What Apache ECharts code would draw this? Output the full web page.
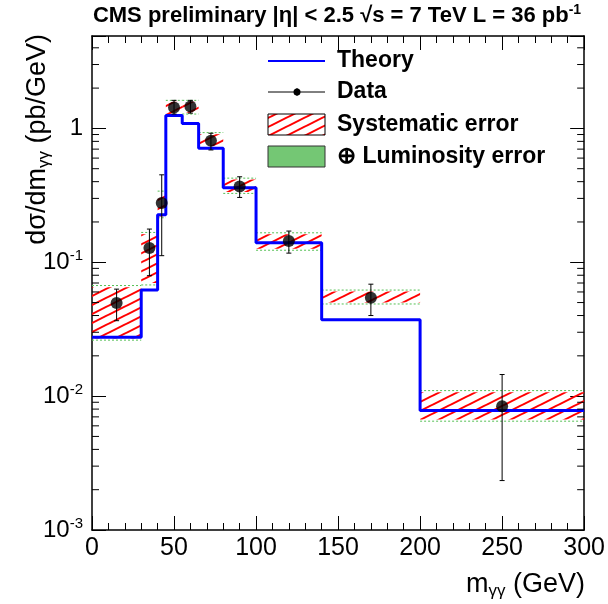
<!DOCTYPE html>
<html><head><meta charset="utf-8">
<script src="https://cdn.jsdelivr.net/npm/echarts@6/dist/echarts.min.js"></script>
<style>html,body{margin:0;padding:0;background:#fff}#c{width:608px;height:604px}</style>
</head><body><div id="c"></div>
<script>
// ---- data ----
const binEdges = [0, 30, 40, 45, 55, 65, 80, 100, 140, 200, 300];
const theory   = [0.0275, 0.062, 0.226, 1.25, 1.09, 0.711, 0.361, 0.140, 0.0372, 0.0078];
const dataX    = [15, 35, 42.5, 50, 60, 72.5, 90, 120, 170, 250];
const dataY    = [0.0496, 0.128, 0.277, 1.43, 1.46, 0.81, 0.368, 0.144, 0.0543, 0.0084];
const dataLo   = [0.0366, 0.0794, 0.112, 1.28, 1.30, 0.69, 0.305, 0.117, 0.040, 0.00234];
const dataHi   = [0.063, 0.177, 0.45, 1.62, 1.62, 0.92, 0.435, 0.171, 0.0686, 0.0145];
const sysLo    = [0.027, 0.070, 0.22, 1.28, 1.31, 0.74, 0.335, 0.126, 0.050, 0.0067];
const sysHi    = [0.065, 0.162, 0.33, 1.58, 1.58, 0.905, 0.415, 0.162, 0.0605, 0.0107];
const totLo    = [0.0262, 0.0677, 0.215, 1.25, 1.28, 0.72, 0.327, 0.123, 0.0488, 0.0065];
const totHi    = [0.067, 0.167, 0.34, 1.62, 1.62, 0.93, 0.425, 0.166, 0.0620, 0.011];
const yMinorTicks = [0.002,0.003,0.004,0.005,0.006,0.007,0.008,0.009,
                     0.02,0.03,0.04,0.05,0.06,0.07,0.08,0.09,
                     0.2,0.3,0.4,0.5,0.6,0.7,0.8,0.9, 2,3,4];
const xMin = 0, xMax = 300, xInterval = 50;
const yMin = 0.001, yMax = 4.9;

const FONT = 'Liberation Sans, Arial, Helvetica, sans-serif';

// hatch pattern
const H = 9, W = 18;
const cv = document.createElement('canvas');
cv.width = W; cv.height = H;
const ctx = cv.getContext('2d');
ctx.strokeStyle = '#ff0000'; ctx.lineWidth = 2;
for (const dy of [-H, 0, H]) {
  ctx.beginPath(); ctx.moveTo(-2, H + dy + 1); ctx.lineTo(W + 2, dy - 1); ctx.stroke();
}
const hatch = { image: cv, repeat: 'repeat' };

const bins = binEdges.slice(0, -1).map((e, i) => [e, binEdges[i + 1], sysLo[i], sysHi[i], totLo[i], totHi[i]]);
const theoryLine = binEdges.map((e, i) => [e, theory[Math.min(i, theory.length - 1)]]);

const chart = echarts.init(document.getElementById('c'), null, { renderer: 'canvas' });

const axisCommonX = {
  type: 'value', min: xMin, max: xMax, interval: xInterval,
  axisLine: { show: true, onZero: false, lineStyle: { color: '#000', width: 1.5 } },
  axisTick: { show: true, inside: true, length: 14, lineStyle: { color: '#000', width: 1 } },
  minorTick: { show: true, splitNumber: 5, length: 7, lineStyle: { color: '#000', width: 1 } },
  splitLine: { show: false }, minorSplitLine: { show: false }
};
const axisCommonY = {
  type: 'log', logBase: 10, min: yMin, max: yMax,
  axisLine: { show: true, onZero: false, lineStyle: { color: '#000', width: 1.5 } },
  axisTick: { show: true, inside: true, length: 14, lineStyle: { color: '#000', width: 1 } },
  minorTick: { show: false },
  splitLine: { show: false }
};

const option = {
  animation: false,
  backgroundColor: '#fff',
  grid: { left: 92, right: 23, top: 36, bottom: 74 },
  xAxis: [
    Object.assign({}, axisCommonX, {
      position: 'bottom',
      axisLabel: { show: true, color: '#000', fontSize: 25, fontFamily: FONT, margin: 6 }
    }),
    Object.assign({}, axisCommonX, { position: 'top', axisLabel: { show: false } })
  ],
  yAxis: [
    Object.assign({}, axisCommonY, {
      position: 'left',
      axisLabel: {
        show: true, color: '#000', margin: 9, fontFamily: FONT,
        formatter: v => {
          const l = Math.log10(v), e = Math.round(l);
          if (Math.abs(l - e) > 1e-6) return '';
          if (e === 0) return '{b|1}';
          return '{b|10}{s|' + e + '}';
        },
        rich: {
          b: { fontSize: 24, fontFamily: FONT, color: '#000', lineHeight: 27 },
          s: { fontSize: 15, fontFamily: FONT, color: '#000', lineHeight: 14, verticalAlign: 'top' }
        }
      }
    }),
    Object.assign({}, axisCommonY, { position: 'right', axisLabel: { show: false } })
  ],
  series: [
    { // luminosity (total) error: dotted green edges
      type: 'custom', name: 'Luminosity error', xAxisIndex: 0, yAxisIndex: 0, z: 2,
      data: bins, encode: { x: [0, 1], y: [4, 5] },
      renderItem: (params, api) => {
        const a = api.coord([api.value(0), api.value(5)]);
        const b = api.coord([api.value(1), api.value(4)]);
        const st = { stroke: '#55c055', lineWidth: 1, lineDash: [2, 2] };
        return { type: 'group', children: [
          { type: 'line', shape: { x1: a[0], y1: a[1], x2: b[0], y2: a[1] }, style: st },
          { type: 'line', shape: { x1: a[0], y1: b[1], x2: b[0], y2: b[1] }, style: st }
        ] };
      }
    },
    { // systematic error: red hatch
      type: 'custom', name: 'Systematic error', xAxisIndex: 0, yAxisIndex: 0, z: 3,
      data: bins, encode: { x: [0, 1], y: [2, 3] },
      renderItem: (params, api) => {
        const a = api.coord([api.value(0), api.value(3)]);
        const b = api.coord([api.value(1), api.value(2)]);
        return { type: 'rect', shape: { x: a[0], y: a[1], width: b[0] - a[0], height: b[1] - a[1] },
                 style: { fill: hatch } };
      }
    },
    { // theory histogram
      type: 'line', name: 'Theory', step: 'end', data: theoryLine, z: 4,
      symbol: 'none', lineStyle: { color: '#0000ff', width: 3 }, clip: true
    },
    { // data error bars
      type: 'custom', name: 'Data errors', xAxisIndex: 0, yAxisIndex: 0, z: 5,
      data: dataX.map((x, i) => [x, dataLo[i], dataHi[i]]), encode: { x: 0, y: [1, 2] },
      renderItem: (params, api) => {
        const lo = api.coord([api.value(0), api.value(1)]);
        const hi = api.coord([api.value(0), api.value(2)]);
        const st = { stroke: '#000', lineWidth: 1 };
        const c = 2.5;
        return { type: 'group', children: [
          { type: 'line', shape: { x1: lo[0], y1: lo[1], x2: hi[0], y2: hi[1] }, style: st },
          { type: 'line', shape: { x1: lo[0] - c, y1: lo[1], x2: lo[0] + c, y2: lo[1] }, style: st },
          { type: 'line', shape: { x1: hi[0] - c, y1: hi[1], x2: hi[0] + c, y2: hi[1] }, style: st }
        ] };
      }
    },
    { // data points
      type: 'scatter', name: 'Data', z: 6,
      data: dataX.map((x, i) => [x, dataY[i]]),
      symbol: 'circle', symbolSize: 12, itemStyle: { color: '#000' }
    },
    { // y minor ticks (log 2..9) on left and right frame
      type: 'custom', name: 'yminor', xAxisIndex: 0, yAxisIndex: 0, z: 7, silent: true,
      data: yMinorTicks.map(v => [xMin, v]), encode: { x: 0, y: 1 },
      renderItem: (params, api) => {
        const p = api.coord([xMin, api.value(1)]);
        const cs = params.coordSys;
        const st = { stroke: '#000', lineWidth: 1 };
        return { type: 'group', children: [
          { type: 'line', shape: { x1: cs.x, y1: p[1], x2: cs.x + 7, y2: p[1] }, style: st },
          { type: 'line', shape: { x1: cs.x + cs.width - 7, y1: p[1], x2: cs.x + cs.width, y2: p[1] }, style: st }
        ] };
      }
    }
  ],
  graphic: [
    { type: 'text', x: 337, y: 16, style: {
        text: '{t|CMS preliminary |η| < 2.5 √s = 7 TeV L = 36 pb}{s|-1}',
        align: 'center', verticalAlign: 'middle',
        rich: {
          t: { fontSize: 22, fontWeight: 'bold', fontFamily: FONT, fill: '#000', lineHeight: 25 },
          s: { fontSize: 14, fontWeight: 'bold', fontFamily: FONT, fill: '#000', lineHeight: 13, verticalAlign: 'top' }
        } } },
    // y axis title
    { type: 'text', x: 38, y: 34, rotation: Math.PI / 2, style: {
        text: '{n|dσ/dm}{u|γγ}{n| (pb/GeV)}', align: 'right', verticalAlign: 'middle',
        rich: {
          n: { fontSize: 27, fontFamily: FONT, fill: '#000', lineHeight: 30 },
          u: { fontSize: 17, fontFamily: FONT, fill: '#000', lineHeight: 12, verticalAlign: 'bottom' }
        } } },
    // x axis title
    { type: 'text', x: 585, y: 585, style: {
        text: '{n|m}{u|γγ}{n| (GeV)}', align: 'right', verticalAlign: 'middle',
        rich: {
          n: { fontSize: 27, fontFamily: FONT, fill: '#000', lineHeight: 30 },
          u: { fontSize: 17, fontFamily: FONT, fill: '#000', lineHeight: 12, verticalAlign: 'bottom' }
        } } },
    // legend
    { type: 'line', shape: { x1: 268, y1: 61, x2: 325, y2: 61 }, style: { stroke: '#0000ff', lineWidth: 2 } },
    { type: 'text', x: 337, y: 61, style: { text: 'Theory', fontSize: 23, fontWeight: 'bold', fontFamily: FONT, fill: '#000', verticalAlign: 'middle' } },
    { type: 'line', shape: { x1: 268, y1: 92, x2: 325, y2: 92 }, style: { stroke: '#000', lineWidth: 1 } },
    { type: 'line', shape: { x1: 297, y1: 88, x2: 297, y2: 96 }, style: { stroke: '#000', lineWidth: 1 } },
    { type: 'circle', shape: { cx: 297, cy: 92, r: 3.5 }, style: { fill: '#000' } },
    { type: 'text', x: 337, y: 92, style: { text: 'Data', fontSize: 23, fontWeight: 'bold', fontFamily: FONT, fill: '#000', verticalAlign: 'middle' } },
    { type: 'rect', shape: { x: 268, y: 114, width: 57, height: 21 }, style: { fill: hatch, stroke: '#000', lineWidth: 1 } },
    { type: 'text', x: 337, y: 125, style: { text: 'Systematic error', fontSize: 23, fontWeight: 'bold', fontFamily: FONT, fill: '#000', verticalAlign: 'middle' } },
    { type: 'rect', shape: { x: 268, y: 146, width: 57, height: 21 }, style: { fill: '#74c774', stroke: '#333', lineWidth: 1 } },
    { type: 'text', x: 337, y: 157, style: { text: '⊕ Luminosity error', fontSize: 23, fontWeight: 'bold', fontFamily: FONT, fill: '#000', verticalAlign: 'middle' } }
  ]
};
chart.setOption(option);
</script>
</body></html>
